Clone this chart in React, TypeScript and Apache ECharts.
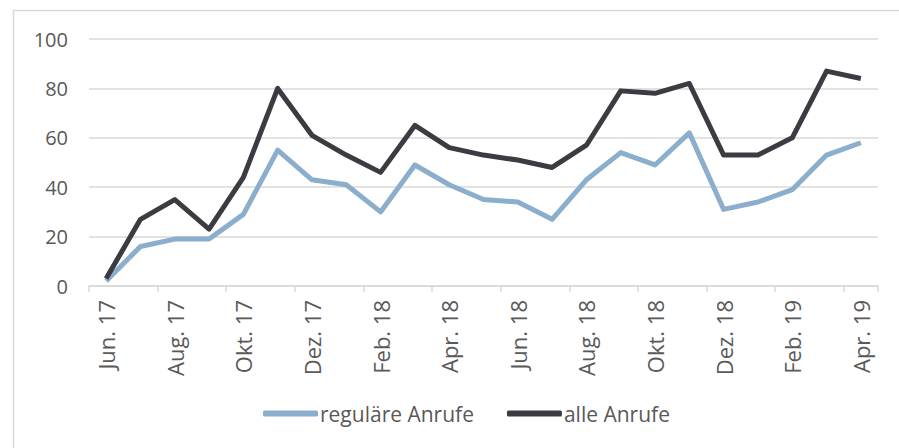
import React, { useEffect, useRef } from "react";
import * as echarts from "echarts";

const months = [
  "Jun. 17", "Jul. 17", "Aug. 17", "Sep. 17", "Okt. 17", "Nov. 17", "Dez. 17",
  "Jan. 18", "Feb. 18", "Mrz. 18", "Apr. 18", "Mai. 18", "Jun. 18", "Jul. 18",
  "Aug. 18", "Sep. 18", "Okt. 18", "Nov. 18", "Dez. 18", "Jan. 19", "Feb. 19",
  "Mrz. 19", "Apr. 19",
];
const regulaereAnrufe = [2, 16, 19, 19, 29, 55, 43, 41, 30, 49, 41, 35, 34, 27, 43, 54, 49, 62, 31, 34, 39, 53, 58];
const alleAnrufe = [3, 27, 35, 23, 44, 80, 61, 53, 46, 65, 56, 53, 51, 48, 57, 79, 78, 82, 53, 53, 60, 87, 84];
const yTicks = { min: 0, max: 100, interval: 20 };

const FONT = "'Open Sans', sans-serif";
const TEXT = "#595959";
const GRID = "#d9d9d9";

export default function App() {
  const ref = useRef<HTMLDivElement>(null);
  useEffect(() => {
    if (!ref.current) return;
    const chart = echarts.init(ref.current, null, { renderer: "svg" });
    chart.setOption({
      animation: false,
      backgroundColor: "#ffffff",
      textStyle: { fontFamily: FONT },
      graphic: [
        {
          type: "rect",
          shape: { x: 13.5, y: 10.5, width: 900, height: 460 },
          style: { fill: "none", stroke: GRID, lineWidth: 1.5 },
          silent: true,
        },
      ],
      grid: { left: 89, right: 21, top: 39, bottom: 162, containLabel: false },
      legend: {
        top: 398,
        left: 258,
        icon: "roundRect",
        itemWidth: 55,
        itemHeight: 6,
        itemGap: 33,
        textStyle: { color: TEXT, fontSize: 21, fontFamily: FONT, padding: [0, 0, 0, -3] },
        data: ["reguläre Anrufe", "alle Anrufe"],
      },
      xAxis: {
        type: "category",
        data: months,
        boundaryGap: true,
        axisLine: { lineStyle: { color: GRID, width: 1.5 } },
        axisTick: { show: true, interval: 1, length: 6, lineStyle: { color: GRID, width: 1.5 } },
        axisLabel: {
          interval: 1,
          rotate: 90,
          margin: 14,
          color: TEXT,
          fontSize: 22,
          fontFamily: FONT,
        },
      },
      yAxis: {
        type: "value",
        min: yTicks.min,
        max: yTicks.max,
        interval: yTicks.interval,
        axisLine: { show: false },
        axisTick: { show: false },
        axisLabel: { color: TEXT, fontSize: 20, fontFamily: FONT, margin: 21 },
        splitLine: { lineStyle: { color: GRID, width: 1.5 } },
      },
      series: [
        {
          name: "reguläre Anrufe",
          type: "line",
          data: regulaereAnrufe,
          symbol: "none",
          lineStyle: { color: "#8aaecb", width: 5, join: "round" },
          itemStyle: { color: "#8aaecb" },
        },
        {
          name: "alle Anrufe",
          type: "line",
          data: alleAnrufe,
          symbol: "none",
          lineStyle: { color: "#3b3c42", width: 5, join: "round" },
          itemStyle: { color: "#3b3c42" },
        },
      ],
    });
    return () => chart.dispose();
  }, []);
  return <div ref={ref} style={{ width: 899, height: 448, position: "absolute", left: 0, top: 0 }} />;
}
